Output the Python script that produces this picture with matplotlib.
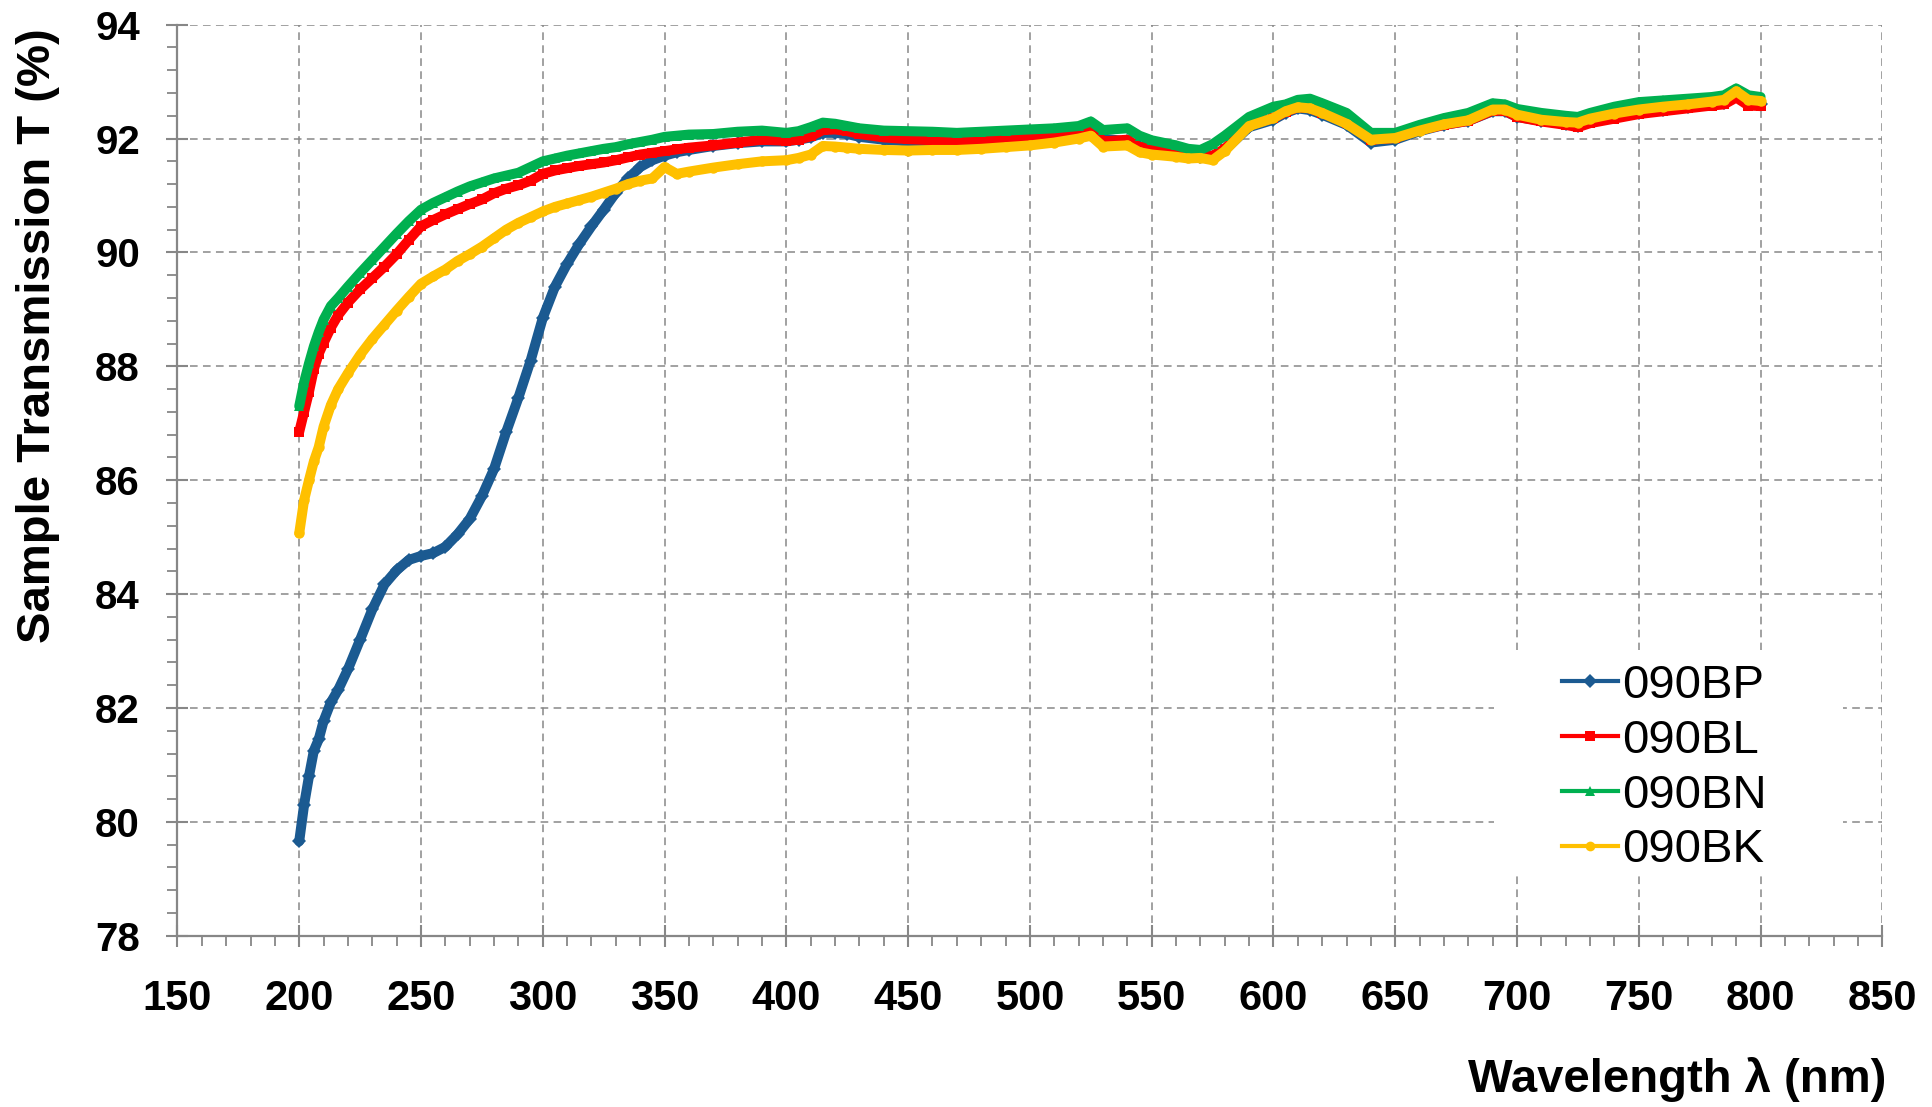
import matplotlib
matplotlib.use("Agg")
import matplotlib.pyplot as plt
from matplotlib.lines import Line2D
from matplotlib.patches import Rectangle
from matplotlib.ticker import MultipleLocator

plt.rcParams["font.family"] = ["Liberation Sans", "DejaVu Sans"]

# wavelength grid (nm)
WAVELENGTH = [
    200, 202, 204, 206, 208, 210, 213, 216, 220, 225,
    230, 235, 240, 245, 250, 255, 260, 265, 270, 275,
    280, 285, 290, 295, 300, 305, 310, 315, 320, 325,
    330, 335, 340, 345, 350, 355, 360, 370, 380, 390,
    400, 405, 410, 415, 420, 425, 430, 440, 450, 460,
    470, 480, 490, 500, 510, 520, 525, 530, 540, 545,
    550, 560, 565, 570, 575, 580, 590, 600, 605, 610,
    615, 620, 630, 640, 650, 660, 670, 680, 690, 695,
    700, 710, 720, 725, 730, 740, 750, 760, 770, 780,
    785, 790, 795, 800,
]

T_090BP = [
    79.66, 80.3, 80.8, 81.25, 81.45, 81.77, 82.1, 82.32, 82.68, 83.2,
    83.73, 84.17, 84.42, 84.6, 84.67, 84.72, 84.83, 85.05, 85.32, 85.72,
    86.2, 86.85, 87.45, 88.1, 88.85, 89.4, 89.8, 90.15, 90.46, 90.75,
    91.05, 91.3, 91.5, 91.62, 91.7, 91.76, 91.8, 91.87, 91.92, 91.95,
    91.95, 91.98, 92.02, 92.1, 92.1, 92.08, 92.03, 91.98, 91.95, 91.95,
    91.95, 91.97, 91.99, 92.0, 92.03, 92.07, 92.15, 92.0, 91.95, 91.85,
    91.8, 91.74, 91.7, 91.68, 91.68, 91.8, 92.2, 92.33, 92.45, 92.53,
    92.5, 92.42, 92.24, 91.93, 91.98, 92.13, 92.24, 92.31, 92.48, 92.48,
    92.38, 92.31, 92.26, 92.22, 92.3, 92.38, 92.45, 92.5, 92.55, 92.6,
    92.62, 92.74, 92.6, 92.6,
]

T_090BL = [
    86.85, 87.2, 87.55, 87.95, 88.22, 88.41, 88.68, 88.9, 89.12, 89.35,
    89.55, 89.75, 89.97, 90.22, 90.46, 90.57, 90.67, 90.76, 90.85, 90.93,
    91.04, 91.12, 91.18, 91.26, 91.38, 91.44, 91.48, 91.52, 91.55, 91.58,
    91.62, 91.67, 91.72, 91.75, 91.78, 91.81, 91.84, 91.88, 91.93, 91.98,
    91.96, 91.98, 92.04, 92.15, 92.16, 92.13, 92.08, 92.02, 91.99, 91.97,
    91.96, 91.98, 92.0, 92.02, 92.05, 92.09, 92.2, 91.95, 91.98, 91.85,
    91.82, 91.76, 91.72, 91.72, 91.7, 91.82, 92.24, 92.36, 92.47, 92.55,
    92.53, 92.45, 92.28, 91.98, 92.01, 92.15, 92.24, 92.31, 92.49, 92.49,
    92.38, 92.3, 92.24, 92.2, 92.27, 92.35, 92.43, 92.48, 92.53, 92.58,
    92.6, 92.72, 92.58, 92.57,
]

T_090BN = [
    87.3, 87.72, 88.05, 88.35, 88.6, 88.82, 89.06, 89.2, 89.4, 89.64,
    89.87, 90.1, 90.33, 90.55, 90.75, 90.87, 90.97, 91.07, 91.16, 91.23,
    91.3, 91.35, 91.4, 91.5, 91.6, 91.65, 91.7, 91.74, 91.78, 91.82,
    91.85, 91.9, 91.94, 91.98, 92.03, 92.05, 92.07, 92.08, 92.12, 92.14,
    92.1, 92.13, 92.2, 92.28, 92.26, 92.22, 92.18, 92.14, 92.13, 92.12,
    92.1, 92.12, 92.14, 92.16, 92.18, 92.22, 92.3, 92.15, 92.18, 92.05,
    91.97, 91.88, 91.82, 91.8, 91.9, 92.05, 92.38, 92.56, 92.6, 92.68,
    92.7, 92.62, 92.45, 92.1, 92.1, 92.24, 92.36, 92.45, 92.62, 92.6,
    92.52, 92.45, 92.4, 92.38, 92.45, 92.56, 92.64, 92.67, 92.7, 92.73,
    92.76, 92.88, 92.76, 92.73,
]

T_090BK = [
    85.07, 85.65, 86.0, 86.33, 86.58, 86.94, 87.32, 87.6, 87.88, 88.2,
    88.48, 88.73, 88.98, 89.22, 89.45, 89.58, 89.7, 89.85, 89.97, 90.1,
    90.25, 90.4, 90.52, 90.62, 90.72, 90.8, 90.86, 90.92, 90.98, 91.05,
    91.12, 91.2, 91.26, 91.3, 91.5, 91.38, 91.42, 91.49, 91.55, 91.6,
    91.62, 91.66, 91.72, 91.87, 91.86, 91.84, 91.82, 91.8, 91.79, 91.8,
    91.8, 91.82, 91.85, 91.88, 91.93, 92.0, 92.05, 91.86, 91.88, 91.76,
    91.72, 91.68, 91.65, 91.66, 91.62, 91.78, 92.22, 92.36, 92.48, 92.55,
    92.53, 92.45, 92.26, 91.98, 92.01, 92.14, 92.25, 92.32, 92.51, 92.51,
    92.42, 92.33, 92.29, 92.28, 92.35, 92.44, 92.51, 92.56, 92.6, 92.65,
    92.68, 92.83, 92.68, 92.66,
]

SERIES = [
    ("090BP", T_090BP, "#1b5a91", "D"),
    ("090BL", T_090BL, "#ff0000", "s"),
    ("090BN", T_090BN, "#00b050", "^"),
    ("090BK", T_090BK, "#ffc000", "o"),
]

AXIS_GREY = "#878787"


def plot_transmission():
    fig = plt.figure(figsize=(19.33, 11.07), dpi=100)
    ax = fig.add_axes([0.0918, 0.1547, 0.882, 0.823])

    for name, values, color, marker in SERIES:
        ax.plot(WAVELENGTH, values, color=color, linewidth=7.2,
                marker=marker, markersize=7.5, markeredgewidth=0,
                solid_joinstyle="round", solid_capstyle="round")

    ax.set_xlim(150, 850)
    ax.set_ylim(78, 94)
    ax.xaxis.set_major_locator(MultipleLocator(50))
    ax.xaxis.set_minor_locator(MultipleLocator(10))
    ax.yaxis.set_major_locator(MultipleLocator(2))
    ax.yaxis.set_minor_locator(MultipleLocator(0.4))

    ax.set_axisbelow(True)
    ax.grid(True, which="major", color=AXIS_GREY, linewidth=1.1,
            linestyle=(0, (5, 3.5)))

    for side in ["top", "right"]:
        ax.spines[side].set_visible(False)
    for side in ["left", "bottom"]:
        ax.spines[side].set_color(AXIS_GREY)
        ax.spines[side].set_linewidth(1.6)

    ax.tick_params(which="major", direction="inout", length=16, width=1.5,
                   color=AXIS_GREY)
    ax.tick_params(which="minor", direction="out", length=7, width=1.3,
                   color=AXIS_GREY)
    ax.tick_params(axis="x", which="major", labelsize=30, pad=23)
    ax.tick_params(axis="y", which="major", labelsize=29, pad=19)
    for lbl in ax.get_xticklabels() + ax.get_yticklabels():
        lbl.set_fontweight("bold")

    # white box behind the legend, it hides the grid there
    ax.add_patch(Rectangle((0.772, 0.067), 0.205, 0.247, transform=ax.transAxes,
                           facecolor="white", edgecolor="none", zorder=1.5))

    handles = [Line2D([], [], color=c, linewidth=3, marker=m, markersize=7,
                      markeredgewidth=0)
               for _, _, c, m in SERIES]
    labels = [s[0] for s in SERIES]
    ax.legend(handles, labels, loc="center left", bbox_to_anchor=(0.812, 0.184),
              frameon=False, fontsize=34, handlelength=1.18, handletextpad=0.1,
              labelspacing=0.23, borderpad=0, borderaxespad=0)

    fig.text(0.0194, 0.6965, "Sample Transmission T (%)", rotation=90,
             ha="center", va="center", fontsize=34, fontweight="bold")
    fig.text(0.9757, 0.0244, "Wavelength \u03bb (nm)", ha="right", va="center",
             fontsize=34, fontweight="bold")

    fig.savefig("out.png", dpi=100)
    plt.close(fig)


if __name__ == "__main__":
    plot_transmission()
